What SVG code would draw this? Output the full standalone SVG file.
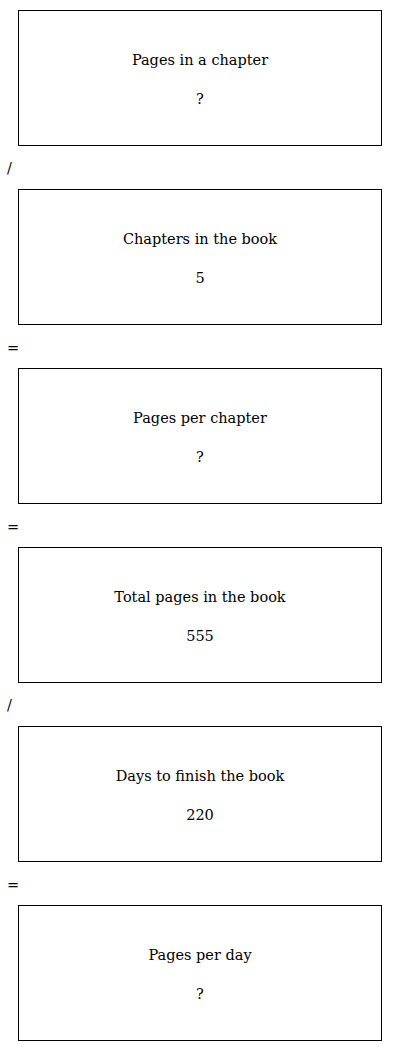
<svg xmlns="http://www.w3.org/2000/svg" width="400" height="1051" viewBox="0 0 400 1051">
<style>
.box{fill:#fff;stroke:#000;stroke-width:1}
text{font-family:"DejaVu Serif","Liberation Serif",serif;font-size:14.5px;fill:#000}
.c{text-anchor:middle}
</style>
<rect width="400" height="1051" fill="#fff"/>
<g id="n1"><rect class="box" x="18.5" y="10.5" width="363" height="135"/><text class="c" x="200" y="65">Pages in a chapter</text><text class="c" x="200" y="104">?</text></g>
<g id="n2"><rect class="box" x="18.5" y="189.5" width="363" height="135"/><text class="c" x="200" y="244">Chapters in the book</text><text class="c" x="200" y="283">5</text></g>
<g id="n3"><rect class="box" x="18.5" y="368.5" width="363" height="135"/><text class="c" x="200" y="423">Pages per chapter</text><text class="c" x="200" y="462">?</text></g>
<g id="n4"><rect class="box" x="18.5" y="547.5" width="363" height="135"/><text class="c" x="200" y="602">Total pages in the book</text><text class="c" x="200" y="641">555</text></g>
<g id="n5"><rect class="box" x="18.5" y="726.5" width="363" height="135"/><text class="c" x="200" y="781">Days to finish the book</text><text class="c" x="200" y="820">220</text></g>
<g id="n6"><rect class="box" x="18.5" y="905.5" width="363" height="135"/><text class="c" x="200" y="960">Pages per day</text><text class="c" x="200" y="999">?</text></g>
<g id="ops">
<text x="7" y="173">/</text>
<text x="7" y="353">=</text>
<text x="7" y="532">=</text>
<text x="7" y="710">/</text>
<text x="7" y="890">=</text>
</g>
</svg>
